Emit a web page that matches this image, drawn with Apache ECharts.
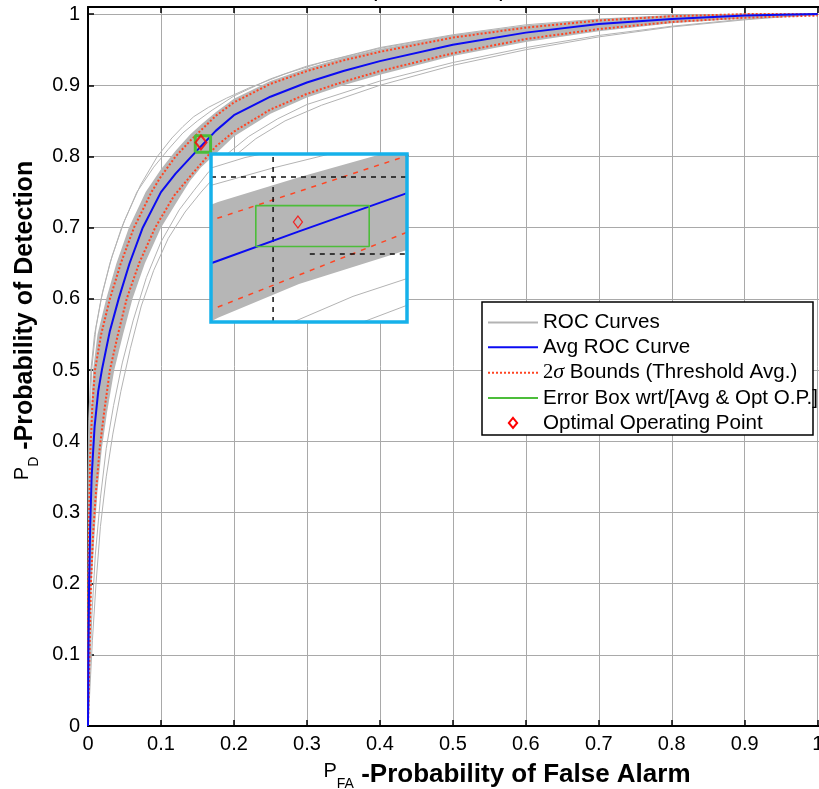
<!DOCTYPE html>
<html>
<head>
<meta charset="utf-8">
<script src="https://cdn.jsdelivr.net/npm/echarts@6/dist/echarts.min.js"></script>
<style>
  html, body { margin: 0; padding: 0; background: #fff; }
  #chart { width: 819px; height: 789px; }
</style>
</head>
<body>
<div id="chart"></div>
<script>
// ---- axis ranges / ticks ----
var xRange = [0, 1.01];
var yRange = [0, 1.01];
var tickStep = 0.1;

// zoomed window around the optimal operating point
var insetX = [0.1387, 0.175];
var insetY = [0.7636, 0.858];

// ---- averaged ROC curve [Pfa, Pd] ----
var avgROC = [[0,0],[0.0005,0.1],[0.0015,0.2],[0.003,0.28],[0.005,0.35],[0.009,0.42],[0.014,0.47],[0.019,0.5],[0.03,0.555],[0.042,0.6],[0.057,0.65],[0.075,0.7],[0.1,0.75],[0.12,0.776],[0.14,0.798],[0.155,0.8145],[0.175,0.836],[0.2,0.858],[0.25,0.884],[0.3,0.904],[0.35,0.92],[0.4,0.934],[0.5,0.957],[0.6,0.974],[0.7,0.986],[0.8,0.993],[0.9,0.998],[1,1]];

// ---- 2-sigma bounds (threshold averaging) ----
var upperBound = [[0,0],[0,0.1],[0.0005,0.2],[0.0015,0.3],[0.003,0.38],[0.006,0.45],[0.0096,0.5],[0.018,0.55],[0.03,0.6],[0.045,0.65],[0.063,0.7],[0.087,0.75],[0.1,0.772],[0.12,0.8],[0.14,0.822],[0.155,0.837],[0.175,0.857],[0.2,0.876],[0.25,0.902],[0.3,0.92],[0.35,0.935],[0.4,0.947],[0.5,0.967],[0.6,0.981],[0.7,0.991],[0.8,0.997],[0.9,1],[1,1]];
var lowerBound = [[0,0],[0.002,0.1],[0.004,0.2],[0.007,0.27],[0.011,0.33],[0.016,0.39],[0.022,0.44],[0.03,0.5],[0.041,0.55],[0.053,0.6],[0.07,0.65],[0.092,0.7],[0.118,0.745],[0.14,0.772],[0.155,0.79],[0.175,0.814],[0.2,0.835],[0.25,0.866],[0.3,0.888],[0.35,0.905],[0.4,0.92],[0.5,0.945],[0.6,0.965],[0.7,0.979],[0.8,0.989],[0.9,0.995],[1,0.998]];

// ---- envelope of the bulk of the individual ROC curves ----
var rocHi = [[0,0],[0,0.3],[0.0015,0.4],[0.007,0.5],[0.013,0.55],[0.025,0.6],[0.039,0.65],[0.056,0.7],[0.079,0.75],[0.1,0.782],[0.12,0.808],[0.14,0.831],[0.155,0.845],[0.175,0.862],[0.2,0.881],[0.25,0.906],[0.3,0.924],[0.35,0.939],[0.4,0.951],[0.5,0.97],[0.6,0.984],[0.7,0.993],[0.8,0.998],[0.9,1],[1,1]];
var rocLo = [[0,0],[0.003,0.1],[0.005,0.2],[0.009,0.27],[0.013,0.33],[0.019,0.39],[0.026,0.44],[0.036,0.5],[0.048,0.55],[0.061,0.6],[0.078,0.65],[0.1,0.7],[0.127,0.745],[0.14,0.766],[0.155,0.785],[0.175,0.804],[0.2,0.828],[0.25,0.86],[0.3,0.883],[0.35,0.9],[0.4,0.915],[0.5,0.941],[0.6,0.961],[0.7,0.976],[0.8,0.987],[0.9,0.994],[1,0.998]];

// ---- individual ROC runs lying outside the bulk ----
var rocA = [[0,0],[0,0.35],[0.001,0.43],[0.004,0.5],[0.009,0.55],[0.018,0.6],[0.03,0.65],[0.046,0.7],[0.067,0.75],[0.09,0.785],[0.11,0.81],[0.13,0.833],[0.15,0.85],[0.17,0.865],[0.2,0.885],[0.25,0.909],[0.3,0.927],[0.4,0.953],[0.5,0.971],[0.6,0.985],[0.7,0.993],[0.8,0.998],[0.9,1],[1,1]];
var rocB = [[0,0],[0.001,0.38],[0.005,0.5],[0.011,0.56],[0.02,0.61],[0.033,0.66],[0.05,0.71],[0.072,0.76],[0.095,0.8],[0.115,0.826],[0.13,0.842],[0.145,0.856],[0.165,0.869],[0.19,0.882],[0.22,0.896],[0.27,0.916],[0.32,0.932],[0.4,0.952],[0.5,0.97],[0.6,0.983],[0.7,0.992],[0.8,0.997],[0.9,1],[1,1]];
var rocC = [[0,0],[0.005,0.15],[0.01,0.24],[0.017,0.32],[0.025,0.39],[0.035,0.45],[0.047,0.51],[0.062,0.57],[0.08,0.63],[0.1,0.68],[0.125,0.725],[0.145,0.752],[0.165,0.778],[0.19,0.803],[0.22,0.828],[0.26,0.853],[0.3,0.873],[0.4,0.906],[0.5,0.932],[0.6,0.953],[0.7,0.97],[0.8,0.983],[0.9,0.993],[1,1]];
var rocD = [[0,0],[0.006,0.12],[0.011,0.2],[0.017,0.28],[0.025,0.35],[0.034,0.41],[0.045,0.47],[0.058,0.53],[0.073,0.59],[0.09,0.64],[0.11,0.685],[0.133,0.722],[0.155,0.75],[0.175,0.773],[0.2,0.8],[0.23,0.825],[0.27,0.85],[0.32,0.872],[0.4,0.9],[0.5,0.928],[0.6,0.95],[0.7,0.968],[0.8,0.982],[0.9,0.992],[1,1]];
var rocRuns = [rocA, rocB, rocC, rocD];

// ---- operating point and its error box ----
var optPoint = [0.1548, 0.8198];
var boxX = [0.147, 0.168];
var boxY = [0.806, 0.829];

// ---- dashed reference lines shown in the zoomed window ----
var crossX = 0.1502;
var crossYHi = 0.8451;
var crossYLo = 0.8018;
var crossLoStartX = 0.157;

// ---- legend labels ----
var names = {
  roc: 'ROC Curves',
  avg: 'Avg ROC Curve',
  bounds: '2σ Bounds (Threshold Avg.)',
  box: 'Error Box wrt/[Avg & Opt O.P.]',
  opt: 'Optimal Operating Point'
};

// ---- layout ----
var FONT = 'Liberation Sans, Arial, Helvetica, sans-serif';
var SERIF = 'Liberation Serif, Times New Roman, serif';
var MAIN = { left: 88, top: 7, width: 737, height: 719 };
var INSET = { left: 211, top: 154, width: 196, height: 168 };
var LEGEND_BOX = { x: 482, y: 302, width: 331, height: 133 };

var C = {
  gray: '#b3b3b3', band: '#b6b6b6', blue: '#0b0bf2', red: '#ff4422',
  green: '#4cbd3a', cyan: '#16b1ea', grid: '#a9a9a9'
};

var boxPath = [[boxX[0], boxY[0]], [boxX[1], boxY[0]], [boxX[1], boxY[1]], [boxX[0], boxY[1]], [boxX[0], boxY[0]]];

function band(xi, yi, extra) {
  return Object.assign({
    type: 'custom', xAxisIndex: xi, yAxisIndex: yi, silent: true, clip: true,
    data: [[rocHi[0][0], rocHi[0][1]]],
    renderItem: function (params, api) {
      var pts = rocHi.map(function (p) { return api.coord(p); })
        .concat(rocLo.slice().reverse().map(function (p) { return api.coord(p); }));
      return { type: 'polygon', shape: { points: pts }, style: { fill: C.band } };
    }
  }, extra || {});
}

function line(name, data, xi, yi, ls, extra) {
  var s = {
    type: 'line', xAxisIndex: xi, yAxisIndex: yi, data: data,
    symbol: 'none', showSymbol: false, silent: true, clip: true,
    lineStyle: ls
  };
  if (name) s.name = name;
  return Object.assign(s, extra || {});
}

var series = [];

// main plot
series.push(band(0, 0, { z: 1 }));
rocRuns.forEach(function (r) {
  series.push(line(names.roc, r, 0, 0, { color: C.gray, width: 1 }, { z: 1 }));
});
series.push(line(names.bounds, upperBound, 0, 0, { color: C.red, width: 2, type: [2, 2] }));
series.push(line(names.bounds, lowerBound, 0, 0, { color: C.red, width: 2, type: [2, 2] }));
series.push(line(names.avg, avgROC, 0, 0, { color: C.blue, width: 2 }));
series.push(line(names.box, boxPath, 0, 0, { color: C.green, width: 3 }));
series.push({
  type: 'scatter', name: names.opt, xAxisIndex: 0, yAxisIndex: 0, silent: true,
  data: [optPoint], symbol: 'diamond', symbolSize: [11, 14], z: 5,
  itemStyle: { color: 'rgba(255,255,255,0)', borderColor: '#ff0000', borderWidth: 2 }
});

// zoomed window
var Z = { zlevel: 1 };
series.push(band(2, 1, { zlevel: 1, z: 1 }));
rocRuns.forEach(function (r) {
  series.push(line(null, r, 2, 1, { color: C.gray, width: 1 }, { zlevel: 1, z: 1 }));
});
series.push(line(null, upperBound, 2, 1, { color: C.red, width: 1.5, type: [5, 6] }, Z));
series.push(line(null, lowerBound, 2, 1, { color: C.red, width: 1.5, type: [5, 6] }, Z));
series.push(line(null, [[crossX, insetY[0]], [crossX, insetY[1]]], 2, 1, { color: '#111', width: 1.5, type: [5, 5] }, Z));
series.push(line(null, [[insetX[0], crossYHi], [insetX[1], crossYHi]], 2, 1, { color: '#111', width: 1.5, type: [5, 5] }, Z));
series.push(line(null, [[crossLoStartX, crossYLo], [insetX[1], crossYLo]], 2, 1, { color: '#111', width: 1.5, type: [5, 5] }, Z));
series.push(line(null, avgROC, 2, 1, { color: C.blue, width: 2 }, Z));
series.push(line(null, boxPath, 2, 1, { color: C.green, width: 1.6 }, Z));
series.push({
  type: 'scatter', xAxisIndex: 2, yAxisIndex: 1, silent: true, zlevel: 1, z: 5,
  data: [optPoint], symbol: 'diamond', symbolSize: [9, 12],
  itemStyle: { color: 'rgba(255,255,255,0)', borderColor: '#ff0000', borderWidth: 1.3 }
});

var tickLabel = { color: '#000', fontSize: 20, fontFamily: FONT, margin: 8, showMaxLabel: false };

var option = {
  animation: false,
  backgroundColor: '#fff',
  title: {
    text: 'Conventional Optimal Threshold point selection',
    left: 258, top: -19,
    textStyle: { fontSize: 15, fontWeight: 'bold', fontFamily: FONT, color: '#000' }
  },
  grid: [
    { left: MAIN.left, top: MAIN.top, width: MAIN.width, height: MAIN.height, show: false,
      containLabel: false, outerBoundsMode: 'none' },
    { left: INSET.left, top: INSET.top, width: INSET.width, height: INSET.height,
      show: true, backgroundColor: '#fff', borderWidth: 0, zlevel: 1,
      containLabel: false, outerBoundsMode: 'none' }
  ],
  xAxis: [
    {
      type: 'value', gridIndex: 0, min: xRange[0], max: xRange[1], interval: tickStep,
      axisLine: { onZero: false, lineStyle: { color: '#000', width: 2 } },
      axisTick: { inside: true, length: 6, lineStyle: { color: '#000', width: 1.5 } },
      axisLabel: tickLabel,
      splitLine: { show: true, lineStyle: { color: C.grid, width: 1 } },
      name: '{p|P}{s|FA}{b| -Probability of False Alarm}',
      nameLocation: 'middle', nameGap: 21,
      nameTextStyle: {
        padding: [0, 0, 0, 101],
        rich: {
          p: { fontSize: 20, fontFamily: FONT, color: '#000', lineHeight: 30, padding: [0, 0, 6, 0] },
          s: { fontSize: 14, fontFamily: FONT, color: '#000', lineHeight: 30, padding: [18, 0, 0, 0] },
          b: { fontSize: 26, fontFamily: FONT, fontWeight: 'bold', color: '#000', lineHeight: 30 }
        }
      }
    },
    {
      type: 'value', gridIndex: 0, position: 'top', min: xRange[0], max: xRange[1], interval: tickStep,
      axisLine: { onZero: false, lineStyle: { color: '#000', width: 2 } },
      axisTick: { inside: true, length: 6, lineStyle: { color: '#000', width: 1.5 } },
      axisLabel: { show: false }, splitLine: { show: false }
    },
    { type: 'value', gridIndex: 1, min: insetX[0], max: insetX[1], show: false, splitLine: { show: false } }
  ],
  yAxis: [
    {
      type: 'value', gridIndex: 0, min: yRange[0], max: yRange[1], interval: tickStep,
      axisLine: { onZero: false, lineStyle: { color: '#000', width: 2 } },
      axisTick: { inside: true, length: 6, lineStyle: { color: '#000', width: 1.5 } },
      axisLabel: tickLabel,
      splitLine: { show: true, lineStyle: { color: C.grid, width: 1 } },
      name: '{p|P}{s|D}{b| -Probability of Detection}',
      nameLocation: 'middle', nameGap: 35,
      nameTextStyle: {
        padding: [0, 0, 0, 92],
        rich: {
          p: { fontSize: 20, fontFamily: FONT, color: '#000', lineHeight: 30, padding: [0, 0, 6, 0] },
          s: { fontSize: 14, fontFamily: FONT, color: '#000', lineHeight: 30, padding: [18, 0, 0, 0] },
          b: { fontSize: 25, fontFamily: FONT, fontWeight: 'bold', color: '#000', lineHeight: 30 }
        }
      }
    },
    { type: 'value', gridIndex: 1, min: insetY[0], max: insetY[1], show: false, splitLine: { show: false } }
  ],
  legend: {
    orient: 'vertical', left: LEGEND_BOX.x, top: LEGEND_BOX.y,
    padding: [10, 0, 0, 5], itemGap: 3.85, itemWidth: 50, itemHeight: 10,
    selectedMode: false, z: 6,
    itemStyle: { opacity: 0 },
    textStyle: {
      fontSize: 20.6, fontFamily: FONT, color: '#000', lineHeight: 20,
      rich: {
        n: { fontSize: 20.6, fontFamily: SERIF, color: '#000', lineHeight: 20 },
        g: { fontSize: 22, fontFamily: SERIF, fontStyle: 'italic', color: '#000', lineHeight: 20 },
        t: { fontSize: 20.6, fontFamily: FONT, color: '#000', lineHeight: 20 }
      }
    },
    formatter: function (name) {
      if (name === names.bounds) {
        return '{n|2}{g|σ}{t| Bounds (Threshold Avg.)}';
      }
      return name;
    },
    data: [
      { name: names.roc },
      { name: names.avg },
      { name: names.bounds },
      { name: names.box },
      { name: names.opt, icon: 'path://M5,0L10,6L5,12L0,6Z',
        itemStyle: { opacity: 1, color: 'rgba(255,255,255,0)', borderColor: '#ff0000', borderWidth: 2 } }
    ]
  },
  graphic: {
    elements: [
      {
        type: 'rect', z: 5, silent: true,
        shape: { x: LEGEND_BOX.x, y: LEGEND_BOX.y, width: LEGEND_BOX.width, height: LEGEND_BOX.height },
        style: { fill: '#fff', stroke: '#000', lineWidth: 1.5 }
      },
      {
        type: 'rect', zlevel: 1, z: 50, silent: true,
        shape: { x: INSET.left, y: INSET.top, width: INSET.width, height: INSET.height },
        style: { fill: 'none', stroke: C.cyan, lineWidth: 3.5 }
      }
    ]
  },
  series: series
};

var chart = echarts.init(document.getElementById('chart'), null, { renderer: 'canvas' });
chart.setOption(option);
</script>
</body>
</html>
